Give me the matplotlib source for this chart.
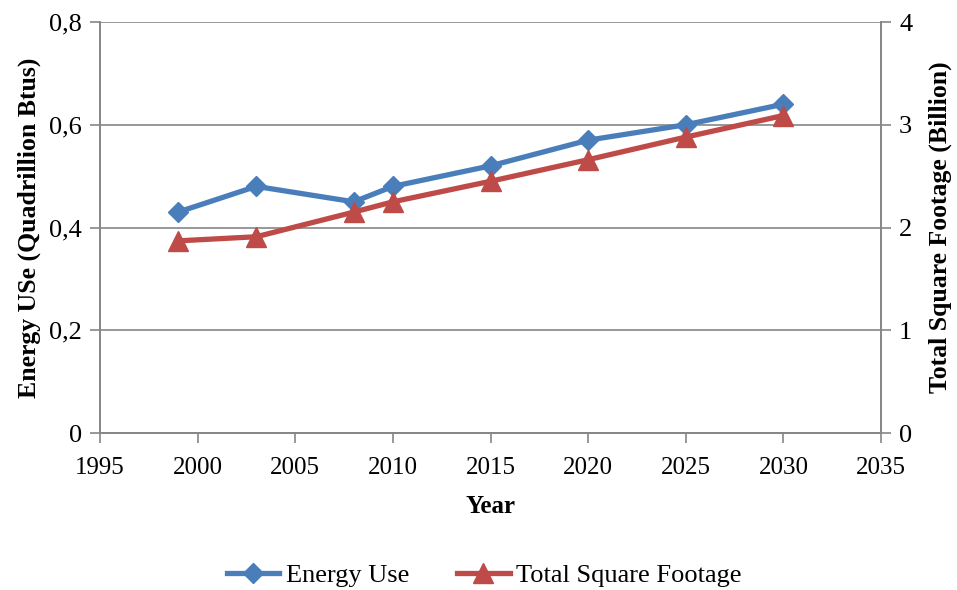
import matplotlib
matplotlib.use("Agg")
import matplotlib.pyplot as plt
from matplotlib.ticker import FuncFormatter, MultipleLocator

plt.rcParams['font.family'] = ['Liberation Serif', 'DejaVu Serif']

years = [1999, 2003, 2008, 2010, 2015, 2020, 2025, 2030]
energy_use = [0.43, 0.48, 0.45, 0.48, 0.52, 0.57, 0.60, 0.64]
square_footage = [1.87, 1.91, 2.15, 2.25, 2.45, 2.66, 2.88, 3.09]

BLUE = '#4A7EBB'
RED = '#BE4B48'
GRID = '#868686'

fig = plt.figure(figsize=(9.57, 5.9), dpi=100)
ax = fig.add_axes([0.1045, 0.2661, 0.8161, 0.6966])
ax2 = ax.twinx()

ax.set_xlim(1995, 2035)
ax.set_ylim(0, 0.8)
ax2.set_ylim(0, 4)
ax.xaxis.set_major_locator(MultipleLocator(5))
ax.yaxis.set_major_locator(MultipleLocator(0.2))
ax2.yaxis.set_major_locator(MultipleLocator(1))

ax.yaxis.set_major_formatter(FuncFormatter(
    lambda v, p: '0' if abs(v) < 1e-9 else f'{v:.1f}'.replace('.', ',')))

ax.grid(axis='y', color=GRID, linewidth=1.2)
ax.set_axisbelow(True)

for a in (ax, ax2):
    for s in a.spines.values():
        s.set_color(GRID)
        s.set_linewidth(1.2)
    a.spines['top'].set_visible(False)
    a.tick_params(colors=GRID, labelcolor='black', width=1.2, length=7)
ax.tick_params(axis='y', labelsize=19, pad=6)
ax.tick_params(axis='x', labelsize=18, pad=10)
ax2.tick_params(axis='y', labelsize=19, pad=6)

l1, = ax.plot(years, energy_use, color=BLUE, linewidth=3.8, marker='D',
              markersize=10, label='Energy Use', zorder=3)
l2, = ax2.plot(years, square_footage, color=RED, linewidth=3.8, marker='^',
               markersize=14, label='Total Square Footage', zorder=3)

ax.set_xlabel('Year', fontsize=18, fontweight='bold', labelpad=12)
ax.set_ylabel('Energy USe (Quadrillion Btus)', fontsize=18.5, fontweight='bold', labelpad=6)
ax2.set_ylabel('Total Square Footage (Billion)', fontsize=18.5, fontweight='bold', labelpad=12)

fig.legend(handles=[l1, l2], loc='center', bbox_to_anchor=(0.506, 0.025),
           ncol=2, frameon=False, fontsize=19, handlelength=2.0,
           handletextpad=0.25, columnspacing=1.8)

fig.savefig('out.png', dpi=100)
